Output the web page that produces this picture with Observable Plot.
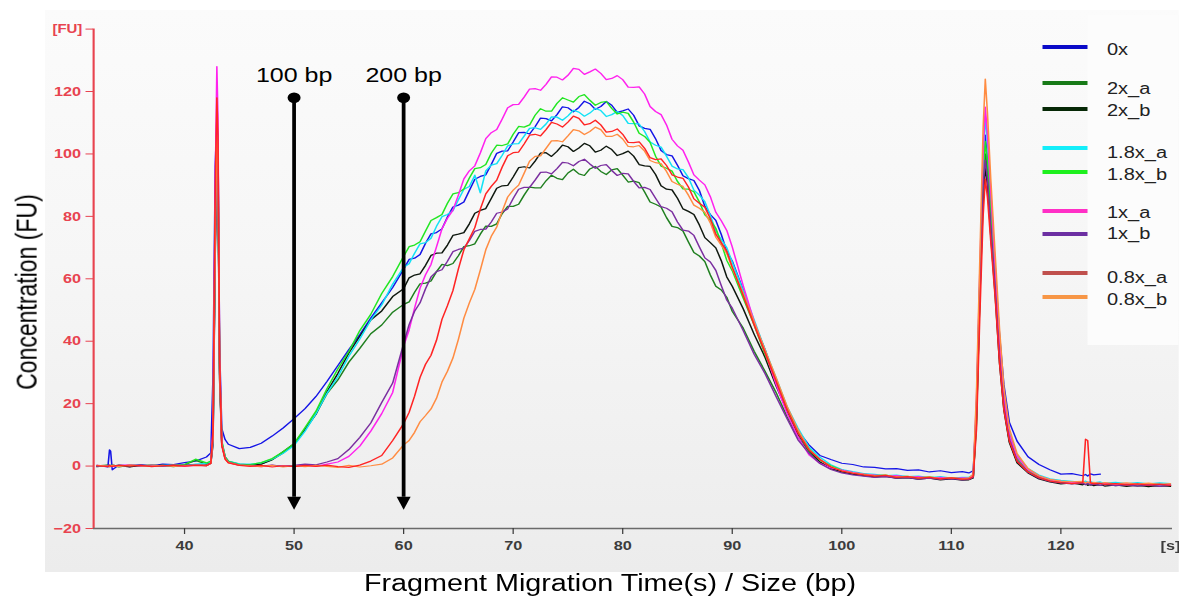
<!DOCTYPE html>
<html>
<head>
<meta charset="utf-8">
<script src="https://cdn.jsdelivr.net/npm/d3@7"></script>
<script src="https://cdn.jsdelivr.net/npm/@observablehq/plot@0.6"></script>
<style>
  html, body { margin: 0; padding: 0; background: #ffffff; overflow: hidden; }
  body { width: 1179px; height: 597px; position: relative; font-family: "Liberation Sans", Arial, sans-serif; }
  #stage { position: absolute; left: 0; top: 0; width: 943.2px; height: 597px; transform: scaleX(1.25); transform-origin: 0 0; }
  #panel { position: absolute; left: 36px; top: 10px; width: 907.2px; height: 562px; background: linear-gradient(#fbfbfb, #f6f6f6 45%, #ececec); }
  #legendbox { position: absolute; left: 870px; top: 15px; width: 73.2px; height: 330px; background: #fcfcfc; }
  #chart { position: absolute; left: 0; top: 0; }
  .sw { position: absolute; height: 3.6px; width: 36px; left: 834.4px; }
  .lt { position: absolute; left: 885.6px; font-size: 16px; color: #222; line-height: 16px; white-space: nowrap; }
  #ytitle { position: absolute; left: 21.6px; top: 292px; font-size: 23px; color: #000; white-space: nowrap; transform: translate(-50%, -50%) rotate(-90deg); }
  #xtitle { position: absolute; left: 488px; top: 583px; font-size: 23px; color: #000; white-space: nowrap; transform: translate(-50%, -50%); }
</style>
</head>
<body>
<div id="stage">
  <div id="panel"></div>
  <div id="legendbox"></div>
  <div id="chart"></div>
  <div id="ytitle">Concentration (FU)</div>
  <div id="xtitle">Fragment Migration Time(s) / Size (bp)</div>
</div>
<script>
// ---------------- DATA ----------------
const seriesNames = ["0x", "2x_a", "2x_b", "1.8x_a", "1.8x_b", "1x_a", "1x_b", "0.8x_a", "0.8x_b"];

const time = [
  32, 33, 33.15, 33.25, 33.4, 34, 35, 36, 37, 38, 39, 40, 41, 42,
  42.4, 42.6, 42.8, 42.95, 43.05, 43.2, 43.4, 43.7, 44, 45,
  46, 47, 48, 49, 50, 51, 52, 53, 54, 55, 56, 57, 58, 59, 60, 61, 62, 63, 64, 65,
  66, 67, 68, 69, 70, 71, 72, 73, 74, 75, 76, 77, 78, 79, 80, 81, 82, 83, 84, 85,
  86, 87, 88, 89, 90, 91, 92, 93, 94, 95, 96, 97, 98, 99, 100, 101, 102, 103, 104, 105, 106, 107, 108, 109, 110, 111,
  111.6, 112.0, 112.3, 112.6, 112.9, 113.1, 113.3, 113.6, 114.0, 114.4, 114.8, 115.3, 116,
  117, 118, 119, 120, 121, 122, 122.25, 122.45, 122.7, 123, 123.6, 124, 125, 126, 127, 128, 129, 130
];

const fu0x = [
  0.2, -0.3, 5.2, 4.8, -1.2, 0.3, -0.2, 0.4, 0.1, 0.6, 0.5, 1.1, 1.6, 2.9, 4.2, 29, 96, 111, 104, 38, 12, 8.5, 7, 5.6,
  6, 7.3, 9.6, 12.2, 15.2, 18.4, 22.3, 27.1, 32.2, 37.3, 42.1, 47.4, 52.3, 57.2, 63.1, 66.6, 71.4, 74.8, 79.8, 83.6,
  88.3, 92.8, 96.6, 100.9, 103.8, 106.9, 108.7, 111.3, 112.6, 114.8, 114.9, 116.1, 115.2, 115.6, 113.8, 112.4, 108.2, 104.9, 99.8, 96.4,
  92.1, 88.3, 80.6, 74.2, 65.7, 56.4, 45.8, 37.3, 27.2, 18.8, 11.3, 6.8, 3.4, 2.1, 0.9, 0.5, -0.3, -0.4, -0.9, -0.8, -1.4, -1.2, -1.9, -1.5, -2.1, -1.8,
  -2.2, -1.5, 18, 58, 92, 106, 97, 80, 62, 42, 26, 14, 8,
  3, 0.5, -1.2, -2.6, -2.4, -3.1, -2.7, -3.2, -2.5, -2.8, -2.6, null, null, null, null, null, null, null
];
const fu2xA = [
  0.1, 0.3, -0.2, 0.2, 0.1, -0.3, 0.2, -0.1, 0.3, 0.1, -0.2, 0.4, 1.8, 0.6, 1.2, 9, 72, 103, 96, 31, 7.5, 3, 1.5, 0.6,
  0.4, 0.7, 2.0, 4.2, 7.1, 11.6, 16.8, 23.2, 27.6, 33.3, 37.7, 42.4, 45.2, 49.3, 51.8, 55.7, 58.6, 62.3, 64.2, 67.4,
  70.6, 74.3, 76.8, 80.9, 83.2, 86.8, 89.1, 91.4, 92.2, 93.9, 93.6, 95.2, 94.4, 94.9, 93.2, 91.3, 87.8, 83.9, 79.6, 76.4,
  71.8, 67.3, 61.2, 56.4, 49.6, 44.2, 36.8, 30.3, 23.6, 15.8, 9.3, 4.6, 1.2, -0.9, -1.9, -2.5, -2.9, -3.4, -3.2, -3.8, -3.6, -4.1, -3.7, -4.2, -3.9, -4.3,
  -4.2, -3.5, 14, 55, 88, 100, 94, 78, 58, 35, 19, 8, 1.5,
  -1.8, -3.6, -4.8, -5.2, -5.6, -5.4, -5.9, -5.5, -6.1, -5.7, -6.2, -5.8, -6.3, -5.9, -6.4, -6.1, -6.5, -6.2
];
const fu2xB = [
  -0.2, 0.1, 0.3, -0.1, 0.2, 0.1, -0.3, 0.2, 0, 0.3, -0.1, 0.2, 0.5, 0.3, 0.9, 7, 68, 98, 92, 28, 7, 2.6, 1.3, 0.4,
  0.3, 0.6, 2.1, 4.6, 7.2, 11.8, 16.6, 23.8, 29.7, 36.2, 41.6, 46.8, 49.7, 54.3, 56.8, 61.2, 64.3, 68.2, 70.8, 74.3,
  77.6, 81.9, 85.7, 89.8, 92.6, 95.9, 97.7, 100.4, 100.8, 102.3, 101.9, 102.6, 101.2, 101.4, 100.1, 99.3, 96.2, 93.4, 88.7, 85.8,
  81.6, 77.2, 71.6, 65.8, 57.6, 50.4, 42.2, 34.8, 25.7, 17.8, 10.2, 5.3, 1.3, -0.7, -1.8, -2.6, -3.1, -3.5, -3.3, -3.9, -3.7, -4.2, -3.9, -4.4, -4.1, -4.5,
  -4.4, -3.8, 16, 54, 85, 96, 90, 74, 55, 33, 18, 7.5, 1,
  -2.2, -4.1, -5.1, -5.7, -5.4, -6.0, -5.6, -6.2, -5.8, -6.3, -5.9, -6.4, -6.0, -6.5, -6.1, -6.6, -6.2, -6.5
];
const fu18xA = [
  0.1, -0.1, 0.2, 0.3, -0.2, 0.4, 0.1, 0.3, -0.1, 0.2, 0.4, 0.1, 0.6, 0.9, 1.4, 8, 75, 104, 97, 32, 8, 3, 1.6, 0.7,
  0.6, 1.0, 2.2, 4.1, 6.6, 11.2, 16.8, 23.3, 28.6, 35.2, 40.7, 46.8, 51.6, 58.3, 63.7, 68.2, 71.6, 76.8, 80.6, 85.3,
  89.6, 87.5, 96.4, 99.6, 103.2, 105.7, 108.4, 109.6, 111.8, 112.2, 113.4, 113.1, 113.9, 112.6, 112.3, 109.7, 107.2, 102.8, 99.3, 95.2,
  92.4, 86.8, 80.3, 72.6, 65.3, 56.2, 46.8, 37.2, 28.3, 19.1, 12.2, 6.1, 2.8, 0.4, -1.1, -1.8, -2.4, -2.7, -3.1, -2.9, -3.4, -3.2, -3.7, -3.4, -3.9, -3.6,
  -3.6, -2.8, 20, 60, 96, 112, 104, 86, 64, 41, 23, 11, 3.5,
  -0.8, -2.9, -4.1, -4.6, -4.9, -5.2, -4.8, -5.3, -5.0, -5.4, -5.1, -5.5, -5.2, -5.6, -5.3, -5.7, -5.4, -5.6
];
const fu18xB = [
  0, 0.2, -0.1, 0.1, 0.3, -0.1, 0.3, 0.1, 0.4, 0, 0.3, 0.5, 2.2, 1.0, 1.6, 10, 78, 104, 98, 33, 8, 3, 1.5, 0.5,
  0.5, 1.1, 2.4, 4.6, 7.2, 12.3, 17.6, 24.8, 31.2, 36.7, 43.4, 48.6, 55.3, 60.7, 67.2, 70.8, 75.3, 79.6, 84.2, 87.6,
  92.3, 95.6, 100.2, 102.7, 106.3, 108.6, 112.4, 113.7, 116.2, 117.3, 118.4, 117.2, 116.5, 114.6, 113.4, 110.2, 105.6, 99.3, 95.4, 91.2,
  88.7, 84.6, 78.8, 71.4, 62.6, 53.8, 45.2, 35.7, 27.1, 18.2, 10.8, 5.6, 1.9, 0.1, -1.3, -2.1, -2.6, -3.1, -2.9, -3.5, -3.3, -3.8, -3.5, -4.0, -3.7, -4.1,
  -4.0, -3.3, 15, 56, 92, 104, 98, 82, 63, 40, 22, 10, 2.5,
  -1.4, -3.4, -4.6, -5.0, -5.4, -5.1, -5.6, -5.3, -5.8, -5.4, -5.9, -5.6, -6.0, -5.7, -6.1, -5.8, -6.2, -5.9
];
const fu1xA = [
  0.2, 0, 0.3, 0.1, -0.2, 0.2, 0.4, 0, 0.3, 0.1, 0.2, -0.1, 0.3, 0.2, 1.0, 12, 90, 128, 112, 36, 7, 2.5, 1.2, 0.3,
  0.1, -0.2, 0.2, -0.1, 0.1, 0.3, -0.1, 0.6, 1.3, 3.1, 6.4, 11.2, 16.8, 23.6, 38.4, 50.6, 61.3, 70.2, 79.4, 86.8,
  94.6, 100.3, 106.8, 111.2, 115.8, 118.2, 120.9, 122.3, 124.6, 125.2, 127.1, 126.3, 125.8, 124.2, 123.8, 121.3, 119.2, 113.6, 109.3, 102.6,
  97.4, 91.6, 86.3, 78.6, 70.2, 57.8, 46.3, 36.6, 26.2, 16.8, 9.3, 3.6, 0.9, -0.6, -1.3, -2.0, -2.6, -2.9, -3.3, -3.1, -3.6, -3.4, -3.9, -3.6, -4.0, -3.8,
  -3.9, -3.1, 22, 62, 100, 115, 106, 88, 64, 40, 22, 10, 3,
  -1.2, -3.2, -4.4, -4.9, -5.3, -5.0, -5.5, -5.2, -5.6, -5.3, -5.8, -5.5, -5.9, -5.6, -6.0, -5.7, -6.1, -5.8
];
const fu1xB = [
  -0.1, 0.2, 0.1, -0.2, 0.3, 0, 0.2, 0.4, 0.1, -0.1, 0.3, 0.2, 0.4, 0.1, 0.8, 8, 70, 100, 94, 30, 7, 2.5, 1.2, 0.3,
  0.2, 0, 0.3, -0.1, 0.2, 0.6, 0.4, 1.3, 2.4, 5.3, 9.2, 13.8, 20.4, 26.6, 39.2, 49.6, 56.8, 62.3, 65.6, 69.4,
  72.3, 75.8, 78.2, 81.4, 85.7, 89.3, 91.6, 94.2, 95.3, 97.1, 97.6, 96.8, 96.3, 94.7, 93.8, 91.2, 89.3, 85.8, 82.6, 78.2,
  75.3, 70.2, 65.4, 57.8, 50.6, 43.4, 35.8, 29.6, 22.3, 15.2, 8.4, 4.1, 0.8, -1.1, -2.2, -2.8, -3.2, -3.6, -3.4, -3.9, -3.7, -4.2, -3.9, -4.3, -4.0, -4.4,
  -4.3, -3.6, 18, 58, 90, 98, 92, 76, 57, 35, 19, 8.5, 1.8,
  -2.0, -3.9, -4.9, -5.4, -5.7, -5.5, -6.0, -5.6, -6.1, -5.8, -6.2, -5.9, -6.3, -6.0, -6.4, -6.1, -6.5, -6.2
];
const fu08xA = [
  0.1, -0.2, 0.2, 0, -0.1, 0.3, 0, 0.2, -0.2, 0.1, 0.3, 0, 0.2, 0.1, 0.9, 11, 88, 118, 106, 34, 6.5, 2.2, 1.0, 0.2,
  -0.1, 0.2, -0.3, 0.1, -0.2, 0.2, -0.1, 0.3, -0.2, -0.4, 0.3, 1.6, 3.4, 8.2, 13.6, 22.4, 32.6, 40.3, 51.4, 63.2,
  72.8, 82.3, 89.6, 95.8, 100.4, 103.2, 106.3, 107.8, 109.6, 110.2, 111.4, 109.7, 109.3, 107.2, 106.3, 103.6, 101.8, 98.2, 96.3, 92.6,
  89.4, 84.2, 79.3, 71.6, 63.8, 54.6, 45.2, 36.3, 27.2, 18.1, 10.6, 5.2, 2.1, -0.3, -1.6, -2.3, -2.8, -3.2, -3.0, -3.6, -3.4, -3.9, -3.6, -4.1, -3.8, -4.2,
  -4.1, -3.4, 12, 48, 80, 92, 86, 72, 54, 33, 18, 8, 1.5,
  -1.9, -3.7, -4.8, -5.3, -5.6, -5.3, 8.6, 8.2, -5.4, -5.7, -5.5, -5.9, -5.6, -6.0, -5.7, -6.1, -5.8, -6.2
];
const fu08xB = [
  0.2, 0, -0.2, 0.1, 0.2, -0.1, 0.3, 0.1, 0, 0.2, -0.1, 0.1, 0.3, 0.2, 0.8, 9, 74, 106, 98, 31, 7, 2.4, 1.1, 0.3,
  0.1, -0.2, 0.2, -0.3, 0.1, -0.2, 0.2, -0.1, -0.4, 0.2, -0.3, 0.1, 0.6, 2.6, 6.8, 10.8, 16.2, 21.7, 30.4, 40.6,
  52.3, 62.8, 73.6, 81.7, 88.4, 93.8, 99.2, 101.8, 104.3, 105.8, 107.4, 107.2, 107.8, 105.6, 104.8, 102.3, 100.9, 97.2, 94.4, 90.3,
  86.8, 82.6, 77.9, 70.8, 63.4, 55.3, 46.2, 37.1, 28.3, 19.2, 11.6, 5.4, 2.2, -0.2, -1.5, -2.2, -2.7, -3.1, -2.9, -3.5, -3.3, -3.8, -3.5, -4.0, -3.7, -4.1,
  -3.8, -2.6, 24, 66, 108, 124, 113, 92, 68, 44, 25, 12, 4,
  -0.8, -3.1, -4.3, -4.8, -5.1, -4.9, -5.4, -5.1, -5.5, -5.2, -5.6, -5.3, -5.7, -5.4, -5.8, -5.5, -5.9, -5.6
];

// extra readings at half seconds across the main hump (60.5 ... 89.5)
const timeHalf = [
  60.5, 61.5, 62.5, 63.5, 64.5, 65.5, 66.5, 67.5, 68.5, 69.5, 70.5, 71.5, 72.5, 73.5, 74.5,
  75.5, 76.5, 77.5, 78.5, 79.5, 80.5, 81.5, 82.5, 83.5, 84.5, 85.5, 86.5, 87.5, 88.5, 89.5
];
const half0x = [
  66.2, 67.8, 74.4, 76.0, 83.0, 84.6, 91.9, 93.3, 100.2, 101.0, 106.8, 106.4, 111.5, 110.6, 115.1,
  113.5, 116.9, 114.3, 116.8, 113.3, 114.4, 109.0, 107.9, 101.1, 99.4, 93.0, 91.5, 83.2, 78.7, 68.8
];
const half2xA = [
  52.6, 58.4, 59.3, 64.6, 64.9, 70.3, 71.2, 76.9, 77.6, 83.2, 83.9, 89.4, 89.1, 93.2, 91.8,
  95.1, 93.1, 96.0, 93.4, 95.3, 91.0, 90.8, 84.6, 83.0, 76.8, 75.3, 68.4, 65.5, 57.6, 54.1
];
const half2xB = [
  60.3, 61.6, 67.5, 68.3, 73.9, 74.8, 81.0, 82.5, 89.0, 89.9, 95.6, 95.5, 100.3, 99.2, 102.8,
  100.8, 103.4, 100.6, 102.5, 99.5, 100.9, 96.6, 96.0, 89.8, 88.5, 82.4, 80.6, 73.2, 69.9, 60.6
];
const half18xA = [
  64.8, 71.2, 73.0, 79.9, 81.8, 88.7, 93.2, 94.6, 96.9, 102.6, 103.3, 108.2, 107.9, 111.9, 110.8,
  114.0, 112.1, 114.6, 112.0, 113.6, 109.8, 109.6, 103.8, 102.2, 96.1, 95.0, 88.4, 84.7, 75.3, 70.0
];
const half18xB = [
  70.3, 71.9, 78.7, 80.6, 87.2, 88.8, 95.3, 96.6, 102.8, 103.2, 108.8, 109.3, 114.5, 113.7, 118.0,
  116.6, 119.0, 115.6, 116.8, 112.8, 113.0, 106.6, 103.7, 96.1, 94.5, 88.8, 87.9, 80.5, 76.2, 65.9
];
const half1xA = [
  43.6, 57.0, 64.6, 76.0, 82.0, 92.0, 96.2, 104.9, 107.8, 114.8, 115.9, 120.8, 120.4, 124.7, 123.7,
  127.4, 125.5, 127.2, 123.8, 125.1, 121.4, 121.5, 115.2, 112.6, 104.7, 101.2, 93.3, 90.1, 81.3, 75.5
];
const half1xB = [
  45.3, 52.3, 60.6, 62.9, 68.7, 69.8, 75.2, 75.9, 81.0, 82.4, 88.7, 89.3, 94.1, 93.6, 97.3,
  96.2, 98.3, 95.4, 96.6, 93.1, 93.6, 89.1, 88.6, 83.1, 81.5, 75.6, 73.9, 66.7, 62.7, 53.2
];
const half08xA = [
  17.2, 28.4, 35.5, 47.0, 56.2, 69.3, 76.4, 87.2, 91.6, 99.4, 100.6, 106.0, 105.8, 110.1, 108.6,
  112.1, 109.3, 110.8, 107.0, 108.0, 103.7, 103.9, 98.8, 98.4, 93.3, 92.2, 85.6, 82.9, 74.3, 68.8
];
const half08xB = [
  8.2, 14.2, 18.3, 26.9, 34.6, 47.4, 56.6, 69.3, 76.6, 86.2, 90.0, 97.7, 99.4, 104.2, 103.9,
  107.8, 106.2, 108.6, 105.6, 106.3, 102.4, 102.7, 97.9, 96.9, 91.2, 89.6, 83.6, 81.3, 73.3, 68.1
];

const markerTimes = [50, 60];
const markerLabels = ["100 bp", "200 bp"];
const markerTop = 118;
const markerTip = -14;

const yTicks = [-20, 0, 20, 40, 60, 80, 100, 120];
const xTicks = [40, 50, 60, 70, 80, 90, 100, 110, 120];

// ---------------- STYLE ----------------
const lineColors   = ["#1414e6", "#1f7f1f", "#0f180f", "#12e2f5", "#22e622", "#ff22ee", "#7b2fa0", "#ff2424", "#ff8c42"];
const legendColors = ["#0a0ac8", "#177a17", "#062806", "#14eefa", "#1ef01e", "#ff2fc6", "#6c2fa2", "#c0504d", "#f79646"];
const legendY = [47, 83, 109, 148, 172, 211, 234, 273, 297];
const legendTextY = [50, 89, 111, 153, 175, 213, 234, 278, 300];
const drawOrder = ["0x", "2x_a", "2x_b", "1.8x_a", "1.8x_b", "1x_a", "1x_b", "0.8x_b", "0.8x_a"];
const axisRed = "#e8434f";

// ---------------- BUILD ----------------
const valuesBySeries = {
  "0x": fu0x, "2x_a": fu2xA, "2x_b": fu2xB, "1.8x_a": fu18xA, "1.8x_b": fu18xB,
  "1x_a": fu1xA, "1x_b": fu1xB, "0.8x_a": fu08xA, "0.8x_b": fu08xB
};
const halfBySeries = {
  "0x": half0x, "2x_a": half2xA, "2x_b": half2xB, "1.8x_a": half18xA, "1.8x_b": half18xB,
  "1x_a": half1xA, "1x_b": half1xB, "0.8x_a": half08xA, "0.8x_b": half08xB
};
for (const [k, arr] of Object.entries(valuesBySeries)) {
  if (arr.length !== time.length) throw new Error(`series ${k} has ${arr.length} values, expected ${time.length}`);
}
for (const [k, arr] of Object.entries(halfBySeries)) {
  if (arr.length !== timeHalf.length) throw new Error(`half series ${k} has ${arr.length} values, expected ${timeHalf.length}`);
}
const rows = [];
for (const name of drawOrder) {
  const pts = [];
  valuesBySeries[name].forEach((v, i) => pts.push({series: name, t: time[i], fu: v}));
  halfBySeries[name].forEach((v, i) => pts.push({series: name, t: timeHalf[i], fu: v}));
  pts.sort((a, b) => a.t - b.t);
  rows.push(...pts);
}
const markers = markerTimes.map((t, i) => ({t, label: markerLabels[i]}));

const downTriangle = {
  draw(ctx) { ctx.moveTo(-5.6, -13); ctx.lineTo(5.6, -13); ctx.lineTo(0, 0); ctx.closePath(); }
};

const xMin = 31.7, xMax = 130.2;

const chart = Plot.plot({
  width: 943.2,
  height: 597,
  marginLeft: 74.4,
  marginRight: 5.6,
  marginTop: 28.6,
  marginBottom: 69,
  style: {background: "transparent", fontFamily: "'Liberation Sans', Arial, sans-serif", overflow: "visible"},
  x: {domain: [xMin, xMax]},
  y: {domain: [-20, 140]},
  color: {domain: seriesNames, range: lineColors},
  marks: [
    Plot.ruleX([xMin], {stroke: axisRed, strokeWidth: 1.7}),
    Plot.ruleY([-20], {stroke: "#6a6a6a", strokeWidth: 1.4}),
    Plot.axisY({ticks: yTicks, tickSize: 6, tickPadding: 4, fontSize: 13, fontWeight: "bold", color: axisRed, label: null}),
    Plot.axisY({ticks: [140], tickSize: 6, tickPadding: 3, fontSize: 12, fontWeight: "bold", color: axisRed, tickFormat: () => "[FU]", label: null}),
    Plot.axisX({ticks: xTicks, tickSize: 6, tickPadding: 6, fontSize: 13, fontWeight: "bold", color: "#3c3c3c", tickFormat: d => String(d), label: null}),
    Plot.axisX({ticks: [130], tickSize: 0, tickPadding: 12, fontSize: 13, fontWeight: "bold", color: "#3c3c3c", tickFormat: () => "[s]", label: null}),
    Plot.line(rows, {x: "t", y: "fu", z: "series", stroke: "series", strokeWidth: 1.25, curve: "linear"}),
    Plot.ruleX(markers, {x: "t", y1: markerTop, y2: markerTip + 4, stroke: "#000", strokeWidth: 3}),
    Plot.dot(markers, {x: "t", y: markerTop, r: 5.2, fill: "#000", stroke: "none"}),
    Plot.dot(markers, {x: "t", y: markerTip, symbol: downTriangle, fill: "#000", stroke: "none"}),
    Plot.text(markers, {x: "t", y: markerTop, text: "label", dy: -22, fontSize: 20, fill: "#000"})
  ]
});
document.getElementById("chart").appendChild(chart);

// legend
const stage = document.getElementById("stage");
seriesNames.forEach((name, i) => {
  const sw = document.createElement("div");
  sw.className = "sw";
  sw.style.top = (legendY[i] - 1.8) + "px";
  sw.style.background = legendColors[i];
  stage.appendChild(sw);
  const lt = document.createElement("div");
  lt.className = "lt";
  lt.style.top = (legendTextY[i] - 8) + "px";
  lt.textContent = name;
  stage.appendChild(lt);
});
</script>
</body>
</html>
